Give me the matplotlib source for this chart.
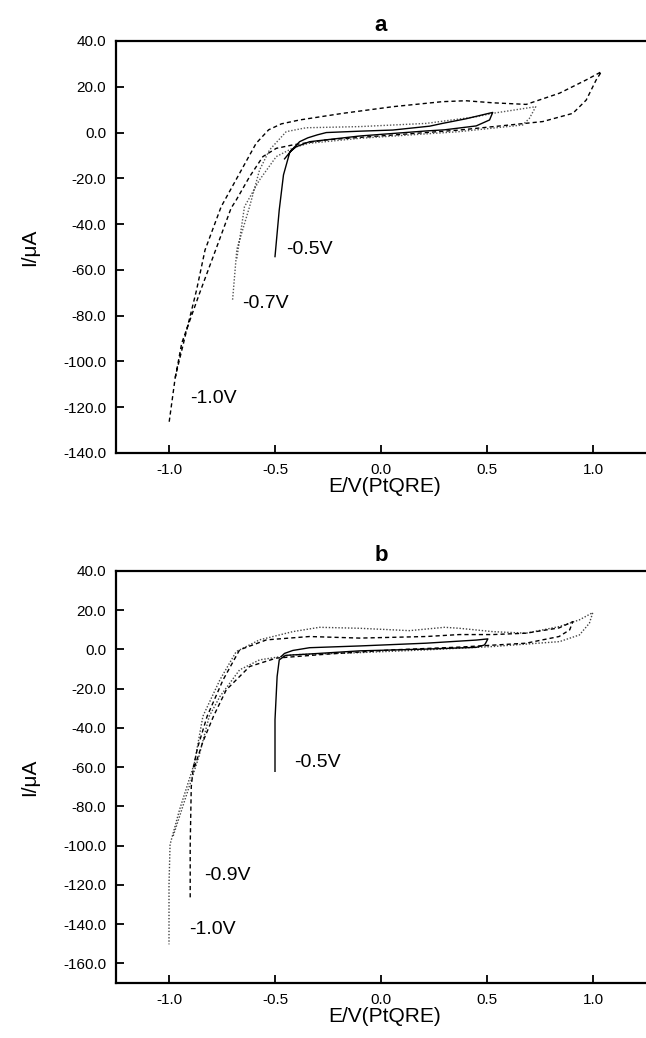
import matplotlib
matplotlib.use("Agg")
import matplotlib.pyplot as plt

plt.rcParams['font.family'] = ['Liberation Sans', 'DejaVu Sans']

# ---------------- Panel a ----------------
a_solid_E = [-0.455, -0.42, -0.384, -0.345, -0.30, -0.258, -0.10, 0.056, 0.23, 0.29, 0.40, 0.527,
             0.512, 0.449, 0.30, 0.213, -0.10, -0.337, -0.40, -0.43, -0.46, -0.48, -0.50]
a_solid_I = [-11.5, -7.5, -4.0, -2.3, -1.0, 0.0, 0.6, 1.1, 2.8, 4.0, 6.0, 8.8,
             5.5, 2.9, 1.2, 0.7, -1.5, -4.0, -6.2, -8.5, -18.5, -33.8, -54.2]

a_dash_E = [-0.97, -0.94, -0.855, -0.78, -0.707, -0.683, -0.62, -0.557, -0.494, -0.416, -0.258,
            0.056, 0.37, 0.606, 0.763, 0.905, 0.968, 1.015, 1.04,
            0.968, 0.842, 0.685, 0.527, 0.40, 0.29, 0.056, -0.18, -0.384, -0.47, -0.53, -0.589,
            -0.667, -0.754, -0.83, -0.87, -0.92, -0.97, -1.0]
a_dash_I = [-107, -92, -70, -51.3, -33, -29.5, -19.3, -10.5, -6.9, -5.4, -3.2,
            -1.1, 1.1, 3.3, 4.8, 8.4, 14.2, 23, 26.6,
            23, 17.2, 12.3, 13, 13.9, 13.5, 11.3, 8.4, 5.5, 3.8, 1.2, -4.7,
            -17.8, -32.4, -51.3, -68.8, -87.6, -106.6, -127]

a_dot_E = [-0.68, -0.644, -0.573, -0.494, -0.41, -0.34, -0.10, 0.37, 0.668, 0.70, 0.73,
           0.527, 0.449, 0.213, -0.10, -0.353, -0.447, -0.526, -0.573, -0.62, -0.68, -0.70]
a_dot_I = [-55, -32.4, -20.7, -10.5, -6.5, -4.7, -2.5, 0.4, 3.3, 6.2, 11.3,
           8.4, 6.9, 4.0, 2.6, 2.1, 0.4, -7.6, -16.4, -32.4, -51, -73]

# ---------------- Panel b ----------------
b_solid_E = [-0.47, -0.455, -0.416, -0.337, -0.10, 0.212, 0.45, 0.504,
             0.495, 0.488, 0.45, 0.212, -0.10, -0.337, -0.45, -0.48, -0.49, -0.50, -0.50]
b_solid_I = [-3.5, -2.0, -0.5, 0.9, 1.8, 3.2, 4.8, 5.4,
             3.5, 2.3, 1.1, 0.2, -0.7, -2.3, -3.0, -5.3, -13.8, -35.8, -62.1]

b_dash_E = [-0.88, -0.84, -0.79, -0.73, -0.62, -0.494, -0.258, 0.056, 0.37, 0.684, 0.84, 0.89, 0.905,
            0.84, 0.684, 0.527, 0.37, 0.212, -0.10, -0.337, -0.54, -0.667, -0.745, -0.82,
            -0.865, -0.885, -0.895, -0.90, -0.90]
b_dash_I = [-60, -47, -34, -20.6, -8.7, -4.4, -2.4, -0.2, 1.2, 3.2, 6.6, 10, 14.2,
            11, 8.3, 7.6, 7.6, 6.6, 5.8, 6.6, 4.9, -0.2, -15.5, -34,
            -50, -60, -70, -100, -127.4]

b_dot_E = [-0.98, -0.92, -0.86, -0.81, -0.76, -0.667, -0.573, -0.416, -0.10, 0.212, 0.527, 0.842,
           0.936, 0.983, 0.999,
           0.936, 0.842, 0.684, 0.527, 0.37, 0.30, 0.134, -0.10, -0.29, -0.416, -0.573, -0.683,
           -0.76, -0.84, -0.88, -0.95, -0.995, -1.0, -1.0]
b_dot_I = [-95, -75, -55, -34, -24, -10.4, -5.3, -2.7, -1.6, -0.2, 1.5, 4.0,
           7.4, 13.4, 18.8,
           15.1, 11.7, 8.3, 9.1, 10.8, 11.3, 9.6, 10.8, 11.3, 9.1, 4.9, -1.1,
           -15.5, -34, -57.9, -81.6, -99.4, -120, -150.3]

x_ticks = [-1.0, -0.5, 0.0, 0.5, 1.0]
a_yticks = [40, 20, 0, -20, -40, -60, -80, -100, -120, -140]
b_yticks = [40, 20, 0, -20, -40, -60, -80, -100, -120, -140, -160]

a_labels = [("-0.5V", -0.448, -51.3), ("-0.7V", -0.655, -74.9), ("-1.0V", -0.90, -116)]
b_labels = [("-0.5V", -0.41, -57.7), ("-0.9V", -0.835, -115.2), ("-1.0V", -0.905, -142.7)]

W, H = 646, 1038
fig = plt.figure(figsize=(W / 100, H / 100), dpi=100)

ax_left = 116 / W
ax_w = (W - 116) / W + 0.01
ax_h = 412 / H
axa = fig.add_axes([ax_left, 1 - 453 / H, ax_w, ax_h])
axb = fig.add_axes([ax_left, 1 - 983 / H, ax_w, ax_h])

dash_style = (0, (3.0, 2.2))
dot_style = (0, (1.0, 1.3))

axa.plot(a_dash_E, a_dash_I, color='black', lw=1.0, ls=dash_style)
axa.plot(a_dot_E, a_dot_I, color='#555555', lw=1.0, ls=dot_style)
axa.plot(a_solid_E, a_solid_I, color='black', lw=1.0, ls='-')

axb.plot(b_dot_E, b_dot_I, color='#444444', lw=1.0, ls=dot_style)
axb.plot(b_dash_E, b_dash_I, color='black', lw=1.0, ls=dash_style)
axb.plot(b_solid_E, b_solid_I, color='black', lw=1.0, ls='-')

for ax, yt, ylim, title, labels in [(axa, a_yticks, (-140, 40), 'a', a_labels),
                                     (axb, b_yticks, (-170, 40), 'b', b_labels)]:
    ax.set_xlim(-1.25, 1.25 + 0.01 * 2.5 / 0.8204)
    ax.set_ylim(*ylim)
    ax.set_xticks(x_ticks)
    ax.set_xticklabels([f"{v:.1f}" for v in x_ticks])
    ax.set_yticks(yt)
    ax.set_yticklabels([f"{v:.1f}" for v in yt])
    ax.tick_params(direction='in', length=6, width=1.3, labelsize=11, pad=7)
    ax.spines['right'].set_visible(False)
    for s in ['left', 'bottom', 'top']:
        ax.spines[s].set_linewidth(1.6)
    ax.set_xlabel('E/V(PtQRE)', fontsize=15, labelpad=0)
    ax.set_ylabel('I/\u03bcA', fontsize=15, labelpad=17)
    ax.set_title(title, fontsize=16, fontweight='bold', pad=7, x=(381 - 116) / (W - 116) * 0.8204 / ax_w)
    for txt, ex, iy in labels:
        ax.text(ex, iy, txt, fontsize=14, ha='left', va='center')

fig.savefig('out.png', dpi=100)
